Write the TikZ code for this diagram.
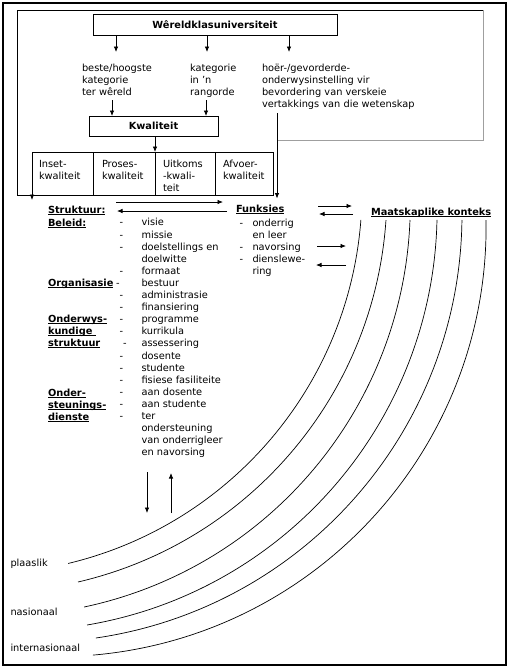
\documentclass[tikz,border=0pt]{standalone}
\usepackage{fontspec}
\setmainfont{DejaVu Sans}
\usetikzlibrary{arrows.meta}
\newsavebox\ulbox
\newcommand\myul[1]{\sbox\ulbox{#1}\rlap{\rule[-1.8pt]{\wd\ulbox}{0.9pt}}\usebox\ulbox}
\begin{document}
\begin{tikzpicture}[x=1pt,y=1pt,
  ln/.style={line width=0.8pt},
  arr/.style={line width=0.8pt,-{Latex[length=5.5pt,width=4.6pt]}},
  box/.style={draw,line width=0.8pt,inner sep=0pt,outer sep=0pt,anchor=north west},
  txt/.style={inner sep=0pt,outer sep=0pt,anchor=north west,align=left,font=\fontsize{9.8}{12}\selectfont},
  lst/.style={txt,font=\fontsize{9.8}{12.1}\selectfont},
  bld/.style={txt,font=\fontsize{9.8}{12}\selectfont\bfseries},
  ring/.style={line width=0.7pt}
]
\useasboundingbox (0,0) rectangle (509,-670);
\draw[line width=1.3pt] (3,-3) rectangle (506,-665);

% top box and its three arrows
\node[box,minimum width=244pt,minimum height=21pt,font=\fontsize{9.8}{12}\selectfont\bfseries] (wku) at (93,-14) {Wêreldklasuniversiteit};
\node[txt] (t1) at (82,-62.6) {\strut beste/hoogste\\kategorie\\ter wêreld};
\node[txt] (t2) at (190,-62.6) {\strut kategorie\\in ’n\\rangorde};
\node[txt] (t3) at (262,-62.6) {\strut hoër-/gevorderde-\\onderwysinstelling vir\\bevordering van verskeie\\vertakkings van die wetenskap};
\coordinate (c1) at (116,-52);
\coordinate (c2) at (207,-52);
\coordinate (c3) at (289,-52);
\draw[arr] (wku.south -| c1) -- (c1);
\draw[arr] (wku.south -| c2) -- (c2);
\draw[arr] (wku.south -| c3) -- (c3);

% Kwaliteit
\node[box,minimum width=129pt,minimum height=20pt,font=\fontsize{9.8}{12}\selectfont\bfseries] (kw) at (89,-116) {Kwaliteit};
\coordinate (c4) at (112,-100);
\coordinate (c5) at (206,-100);
\draw[arr] (c4) -- (c4 |- kw.north);
\draw[arr] (c5) -- (c5 |- kw.north);

% row of quality boxes
\node[box,minimum width=61pt,minimum height=43pt] (q1) at (32,-152) {};
\node[box,minimum width=62pt,minimum height=43pt] (q2) at (93,-152) {};
\node[box,minimum width=60pt,minimum height=43pt] (q3) at (155,-152) {};
\node[box,minimum width=58pt,minimum height=43pt] (q4) at (215,-152) {};
\node[txt] (q1t) at (39,-158.6) {\strut Inset-\\kwaliteit};
\node[txt] (q2t) at (102,-158.6) {\strut Proses-\\kwaliteit};
\node[txt] (q3t) at (163,-158.6) {\strut Uitkoms\\-kwali-\\teit};
\node[txt] (q4t) at (223,-158.6) {\strut Afvoer-\\kwaliteit};
\draw[arr] (kw.south -| q3.north west) -- (q3.north west);

% inner frame
\draw[ln] (q1.south west) -- (17,-195) -- (17,-10) -- (483.5,-10);
\draw[line width=1.4pt,gray!75] (483.5,-10) -- (483.5,-140.5) -- (277,-140.5);
\draw[arr] (q1.south west) -- ++(0,-5);
\coordinate (c6) at (277,-113);
\coordinate (c7) at (277,-198.5);
\draw[arr] (c6) -- (c7);

% Struktuur column
\node[bld] (struk) at (48,-204.6) {\strut\myul{Struktuur:}};
\node[bld] (bel) at (48,-217.6) {\strut\myul{Beleid:}};
\node[bld] (org) at (48,-277.6) {\strut\myul{Organisasie}};
\node[bld] (ond) at (48,-313.6) {\strut\myul{Onderwys-}\\\myul{kundige\ }\\\myul{struktuur}};
\node[bld] (ost) at (48,-387.6) {\strut\myul{Onder-}\\\myul{steunings-}\\\myul{dienste}};
\node[lst] (items) at (141.5,-217.5) {\strut visie\\missie\\doelstellings en\\doelwitte\\formaat\\bestuur\\administrasie\\finansiering\\programme\\kurrikula\\assessering\\dosente\\studente\\fisiese fasiliteite\\aan dosente\\aan studente\\ter\\ondersteuning\\van onderrigleer\\en navorsing};
\foreach \i/\dx in {1/119.5,2/119.5,3/119.5,5/119.5,6/116,7/119.5,8/119.5,9/119.5,10/119.5,11/123,12/119.5,13/119.5,14/119.5,15/119.5,16/119.5,17/119.5}
  \node[lst] (d\i) at ({\dx},{-217.5-(\i-1)*12.1}) {\strut-};

% Funksies
\node[bld] (fun) at (236,-203.6) {\strut\myul{Funksies}};
\node[txt] (funi) at (252.5,-217.6) {\strut onderrig\\en leer\\navorsing\\dienslewe-\\ring};
\node[txt] (fd1) at (239.5,-217.6) {\strut-};
\node[txt] (fd2) at (239.5,-241.6) {\strut-};
\node[txt] (fd3) at (239.5,-253.6) {\strut-};

% Maatskaplike konteks
\node[bld] (mk) at (371,-206.6) {\strut\myul{Maatskaplike konteks}};

% horizontal arrows
\coordinate (s1) at (116,-202); \coordinate (f1) at (223,-202);
\coordinate (f2) at (227,-211); \coordinate (s2) at (117,-211);
\draw[arr] (s1) -- (f1);
\draw[arr] (f2) -- (s2);
\coordinate (m1) at (318,-206); \coordinate (m2) at (352,-206);
\coordinate (m3) at (353,-214); \coordinate (m4) at (319,-214);
\draw[arr] (m1) -- (m2);
\draw[arr] (m3) -- (m4);
\coordinate (m5) at (317,-246); \coordinate (m6) at (346,-246);
\coordinate (m7) at (346,-265); \coordinate (m8) at (316,-265);
\draw[arr] (m5) -- (m6);
\draw[arr] (m7) -- (m8);

% vertical arrows
\coordinate (v1) at (147,-472); \coordinate (v2) at (147,-513);
\coordinate (v3) at (171,-513); \coordinate (v4) at (171,-473);
\draw[arr] (v1) -- (v2);
\draw[arr] (v3) -- (v4);

% context arcs
\foreach \h/\k/\r/\s/\e in {-21/191/383/-4.34/-76.54, -12.5/193/399.4/-3.88/-76.9, -1.5/204.2/411.8/-2.2/-78.0, 17/210.8/420.1/-1.25/-80.4, 34.2/214.7/427.8/-0.71/-81.7, 56.1/226.7/430/0.89/-85.1}
  \draw[ring] (\h,-\k) ++(\s:\r pt) arc[start angle=\s, end angle=\e, radius=\r pt];

% level labels
\node[txt] (pl) at (10.5,-557.6) {\strut plaaslik};
\node[txt] (na) at (10.5,-606.6) {\strut nasionaal};
\node[txt] (in) at (10.5,-642.6) {\strut internasionaal};
\end{tikzpicture}
\end{document}
